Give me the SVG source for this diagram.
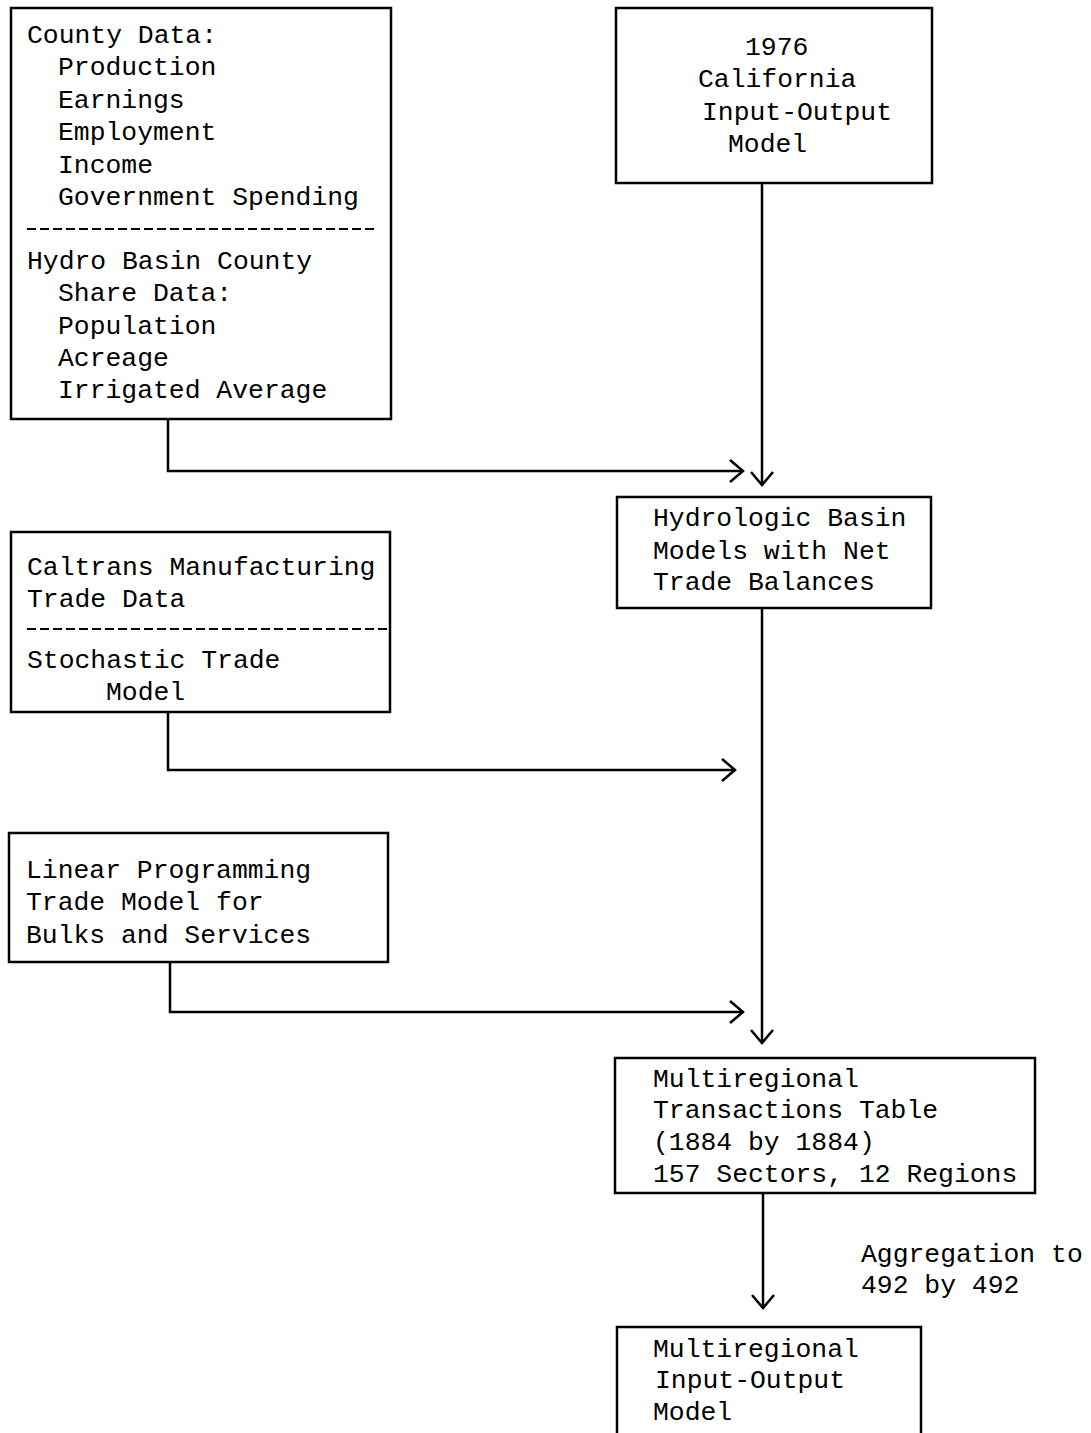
<svg xmlns="http://www.w3.org/2000/svg" width="1091" height="1433" viewBox="0 0 1091 1433">
<style>
.box{fill:none;stroke:#000;stroke-width:2.5}
.dash{stroke:#000;stroke-width:2;stroke-dasharray:9,4}
.t{font-family:"Liberation Mono","DejaVu Sans Mono",monospace;font-size:26.4px;fill:#000}
.con{fill:none;stroke:#000;stroke-width:2.5}
</style>
<defs>
<marker id="arr" viewBox="-16 -14 18 28" refX="0" refY="0" markerWidth="18" markerHeight="28" markerUnits="userSpaceOnUse" orient="auto">
<path d="M-13,-11 L0,0 L-13,11" fill="none" stroke="#000" stroke-width="2.5"/>
</marker>
</defs>
<rect x="0" y="0" width="1091" height="1433" fill="#fff"/>
<g id="county-data">
<rect class="box" x="11" y="8" width="380" height="411"/>
<text class="t" x="27" y="43">County Data:</text>
<text class="t" x="58" y="75">Production</text>
<text class="t" x="58" y="108">Earnings</text>
<text class="t" x="58" y="140">Employment</text>
<text class="t" x="58" y="173">Income</text>
<text class="t" x="58" y="205">Government Spending</text>
<line class="dash" x1="27" y1="229" x2="375" y2="229"/>
<text class="t" x="27" y="269">Hydro Basin County</text>
<text class="t" x="58" y="301">Share Data:</text>
<text class="t" x="58" y="334">Population</text>
<text class="t" x="58" y="366">Acreage</text>
<text class="t" x="58" y="398">Irrigated Average</text>
</g>
<g id="california-io">
<rect class="box" x="616" y="8" width="316" height="175"/>
<text class="t" x="745" y="55">1976</text>
<text class="t" x="698" y="87">California</text>
<text class="t" x="702" y="120">Input-Output</text>
<text class="t" x="728" y="152">Model</text>
</g>
<g id="hydrologic">
<rect class="box" x="617" y="497" width="314" height="111"/>
<text class="t" x="653" y="526">Hydrologic Basin</text>
<text class="t" x="653" y="559">Models with Net</text>
<text class="t" x="653" y="590">Trade Balances</text>
</g>
<g id="caltrans">
<rect class="box" x="11" y="532" width="379" height="180"/>
<text class="t" x="27" y="575">Caltrans Manufacturing</text>
<text class="t" x="27" y="607">Trade Data</text>
<line class="dash" x1="27" y1="629" x2="390" y2="629"/>
<text class="t" x="27" y="668">Stochastic Trade</text>
<text class="t" x="106" y="700">Model</text>
</g>
<g id="linear-prog">
<rect class="box" x="9" y="833" width="379" height="129"/>
<text class="t" x="26" y="878">Linear Programming</text>
<text class="t" x="26" y="910">Trade Model for</text>
<text class="t" x="26" y="943">Bulks and Services</text>
</g>
<g id="transactions">
<rect class="box" x="615" y="1058" width="420" height="135"/>
<text class="t" x="653" y="1087">Multiregional</text>
<text class="t" x="653" y="1118">Transactions Table</text>
<text class="t" x="653" y="1150">(1884 by 1884)</text>
<text class="t" x="653" y="1182">157 Sectors, 12 Regions</text>
</g>
<g id="multiregional-io">
<path class="box" d="M617,1433 V1327 H921 V1433"/>
<text class="t" x="653" y="1357">Multiregional</text>
<text class="t" x="655" y="1388">Input-Output</text>
<text class="t" x="653" y="1420">Model</text>
</g>
<g id="connectors">
<path class="con" d="M762,183 V485" marker-end="url(#arr)"/>
<path class="con" d="M168,419 V471 H743" marker-end="url(#arr)"/>
<path class="con" d="M168,712 V770 H735" marker-end="url(#arr)"/>
<path class="con" d="M170,962 V1012 H743" marker-end="url(#arr)"/>
<path class="con" d="M762,608 V1043" marker-end="url(#arr)"/>
<path class="con" d="M763,1193 V1308" marker-end="url(#arr)"/>
<text class="t" x="861" y="1262">Aggregation to</text>
<text class="t" x="861" y="1293">492 by 492</text>
</g>
</svg>
